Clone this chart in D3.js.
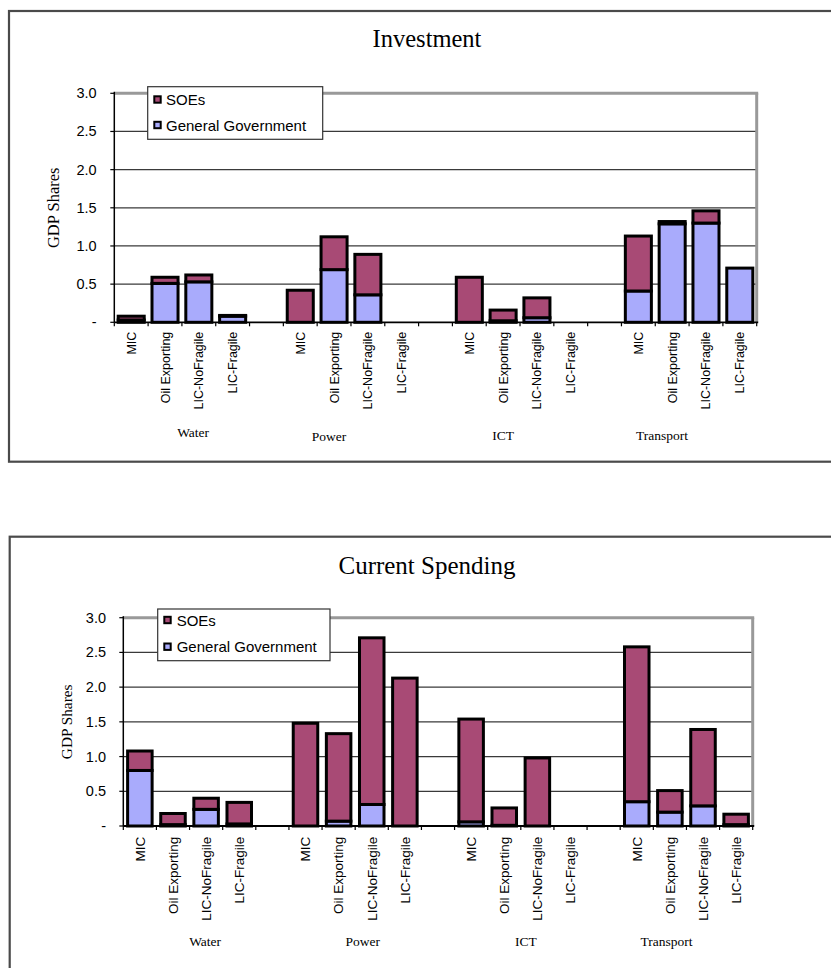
<!DOCTYPE html>
<html lang="en">
<head>
<meta charset="UTF-8">
<title>Investment and Current Spending</title>
<script src="https://d3js.org/d3.v7.min.js"></script>
<style>
  body { margin: 0; background: #fff; }
  svg { display: block; }
</style>
</head>
<body>
<svg id="chart" width="831" height="968"></svg>
<script>
// categories
var sectors = ["Water", "Power", "ICT", "Transport"];
var groups = ["MIC", "Oil Exporting", "LIC-NoFragile", "LIC-Fragile"];
var yTicks = [0, 0.5, 1.0, 1.5, 2.0, 2.5, 3.0];
var yTickLabels = ["-", "0.5", "1.0", "1.5", "2.0", "2.5", "3.0"];
var seriesNames = ["SOEs", "General Government"];

// Investment (GDP shares), order: Water x4, Power x4, ICT x4, Transport x4
var investGG  = [0.03, 0.51, 0.53, 0.08,  0.00, 0.69, 0.36, 0.00,  0.00, 0.02, 0.06, 0.00,  0.41, 1.29, 1.30, 0.71];
var investSOE = [0.05, 0.08, 0.09, 0.01,  0.42, 0.43, 0.53, 0.00,  0.59, 0.14, 0.26, 0.00,  0.72, 0.03, 0.16, 0.00];

// Current spending (GDP shares)
var currentGG  = [0.80, 0.02, 0.24, 0.03,  0.00, 0.07, 0.31, 0.00,  0.06, 0.01, 0.00, 0.00,  0.35, 0.20, 0.29, 0.02];
var currentSOE = [0.28, 0.16, 0.16, 0.31,  1.48, 1.26, 2.40, 2.13,  1.48, 0.25, 0.98, 0.00,  2.23, 0.31, 1.10, 0.15];

var colSOE = "#a84a75", colGG = "#a9abfc";
var sans = "'Liberation Sans', Arial, sans-serif";
var serif = "'Liberation Serif', 'Times New Roman', serif";

var svg = d3.select("#chart");

function drawChart(c) {
  var g = svg.append("g");

  // outer frame
  g.append("rect").attr("x", c.box.x).attr("y", c.box.y)
    .attr("width", 900).attr("height", c.box.h)
    .attr("fill", "none").attr("stroke", "#4a4a4a").attr("stroke-width", 2.2);

  g.append("text").attr("x", 427).attr("y", c.titleY)
    .attr("text-anchor", "middle").attr("dominant-baseline", "central")
    .style("font-family", serif).style("font-size", c.titleSize + "px")
    .text(c.title);

  // slots: 4 groups per sector, one empty slot between sectors
  var slots = [];
  sectors.forEach(function(s, i) {
    groups.forEach(function(gr) { slots.push(s + "|" + gr); });
    if (i < sectors.length - 1) slots.push("gap" + i);
  });

  var x = d3.scaleBand().domain(slots).range([c.plot.x0, c.plot.x1])
    .paddingInner(c.pad).paddingOuter(c.pad / 2);
  var y = d3.scaleLinear().domain([0, 3]).range([c.plot.y1, c.plot.y0]);
  var step = x.step();

  // gridlines
  g.selectAll(".grid").data(yTicks.filter(function(d) { return d > 0 && d < 3; }))
    .enter().append("line")
    .attr("x1", c.plot.x0).attr("x2", c.plot.x1)
    .attr("y1", function(d) { return y(d); }).attr("y2", function(d) { return y(d); })
    .attr("stroke", "#3a3a3a").attr("stroke-width", 1.3);

  // plot border top / right (grey)
  g.append("line").attr("x1", c.plot.x0).attr("x2", c.plot.x1 + 1.5)
    .attr("y1", y(3)).attr("y2", y(3))
    .attr("stroke", "#999").attr("stroke-width", 3);
  g.append("line").attr("x1", c.plot.x1).attr("x2", c.plot.x1)
    .attr("y1", y(3)).attr("y2", y(0))
    .attr("stroke", "#999").attr("stroke-width", 3);

  // stacked bars
  var rows = [];
  sectors.forEach(function(s, i) {
    groups.forEach(function(gr, j) {
      var k = i * 4 + j;
      rows.push({ key: s + "|" + gr, gg: c.gg[k], soe: c.soe[k] });
    });
  });
  var stack = d3.stack().keys(["gg", "soe"])(rows);
  var colors = { gg: colGG, soe: colSOE };

  stack.forEach(function(layer) {
    g.append("g").selectAll("rect")
      .data(layer.filter(function(d) { return d[1] - d[0] > 0; }))
      .enter().append("rect")
      .attr("x", function(d) { return x(d.data.key); })
      .attr("width", x.bandwidth())
      .attr("y", function(d) { return y(d[1]); })
      .attr("height", function(d) { return y(d[0]) - y(d[1]); })
      .attr("fill", colors[layer.key])
      .attr("stroke", "#000").attr("stroke-width", 3);
  });

  // y axis
  g.append("line").attr("x1", c.plot.x0).attr("x2", c.plot.x0)
    .attr("y1", y(3) - 1.5).attr("y2", y(0))
    .attr("stroke", "#000").attr("stroke-width", 1.5);
  g.selectAll(".ytick").data(yTicks).enter().append("line")
    .attr("x1", c.plot.x0 - 4).attr("x2", c.plot.x0)
    .attr("y1", function(d) { return y(d); }).attr("y2", function(d) { return y(d); })
    .attr("stroke", "#000").attr("stroke-width", 1.2);
  g.selectAll(".ylab").data(yTicks).enter().append("text")
    .attr("x", c.plot.x0 - c.yLabGap)
    .attr("y", function(d) { return y(d); })
    .attr("text-anchor", "end").attr("dominant-baseline", "central")
    .style("font-family", sans).style("font-size", "14.5px")
    .text(function(d, i) { return yTickLabels[i]; });

  g.append("text")
    .attr("transform", "translate(" + c.yTitleX + "," + ((y(0) + y(3)) / 2) + ") rotate(-90)")
    .attr("text-anchor", "middle").attr("dominant-baseline", "central")
    .style("font-family", serif).style("font-size", c.yTitleSize + "px")
    .text("GDP Shares");

  // x axis with ticks at slot boundaries
  g.append("line").attr("x1", c.plot.x0).attr("x2", c.plot.x1 + 1.5)
    .attr("y1", y(0)).attr("y2", y(0))
    .attr("stroke", "#000").attr("stroke-width", 1.8);
  g.selectAll(".xtick").data(d3.range(slots.length + 1)).enter().append("line")
    .attr("x1", function(i) { return c.plot.x0 + i * step; })
    .attr("x2", function(i) { return c.plot.x0 + i * step; })
    .attr("y1", y(0)).attr("y2", y(0) + 4)
    .attr("stroke", "#000").attr("stroke-width", 1.2);

  g.selectAll(".xlab").data(rows).enter().append("text")
    .attr("transform", function(d) {
      return "translate(" + (x(d.key) + x.bandwidth() / 2) + "," + c.xLabY + ") rotate(-90)";
    })
    .attr("text-anchor", "end").attr("dy", "0.36em")
    .style("font-family", sans).style("font-size", c.xLabSize + "px")
    .text(function(d) { return d.key.split("|")[1]; });

  g.selectAll(".sector").data(sectors).enter().append("text")
    .attr("x", function(d, i) { return c.plot.x0 + c.sectorPos[i] * step; })
    .attr("y", function(d, i) { return c.sectorY[i]; })
    .attr("text-anchor", "middle").attr("dominant-baseline", "central")
    .style("font-family", serif).style("font-size", "13.5px")
    .text(function(d) { return d; });

  // legend
  var L = c.legend;
  g.append("rect").attr("x", L.x).attr("y", L.y).attr("width", L.w).attr("height", L.h)
    .attr("fill", "#fff").attr("stroke", "#333").attr("stroke-width", 1.2);
  var items = [{ name: seriesNames[0], col: colSOE, y: L.r1 }, { name: seriesNames[1], col: colGG, y: L.r2 }];
  var li = g.selectAll(".leg").data(items).enter().append("g");
  li.append("rect").attr("x", L.sx + 1).attr("y", function(d) { return d.y - 3.2; })
    .attr("width", 6.4).attr("height", 6.4)
    .attr("fill", function(d) { return d.col; })
    .attr("stroke", "#000").attr("stroke-width", 2);
  li.append("text").attr("x", L.tx).attr("y", function(d) { return d.y; })
    .attr("dominant-baseline", "central")
    .style("font-family", sans).style("font-size", "15px")
    .text(function(d) { return d.name; });
}

drawChart({
  title: "Investment", gg: investGG, soe: investSOE,
  box: { x: 9, y: 11, h: 450.7 }, titleY: 38, titleSize: 24.5,
  plot: { x0: 114.3, x1: 756.7, y0: 93.3, y1: 322.3 }, pad: 0.23,
  yLabGap: 17.6, yTitleX: 53, yTitleSize: 16.5,
  xLabY: 331.7, xLabSize: 12.5,
  sectorPos: [2.33, 6.35, 11.5, 16.2], sectorY: [432, 436, 435, 435],
  legend: { x: 147.7, y: 86.7, w: 175, h: 52.6, r1: 99.5, r2: 125, sx: 153.3, tx: 166 }
});

drawChart({
  title: "Current Spending", gg: currentGG, soe: currentSOE,
  box: { x: 9.7, y: 536.7, h: 500 }, titleY: 565, titleSize: 25,
  plot: { x0: 123.3, x1: 752.7, y0: 617.7, y1: 826 }, pad: 0.26,
  yLabGap: 17.3, yTitleX: 66, yTitleSize: 15.3,
  xLabY: 836.7, xLabSize: 13.5,
  sectorPos: [2.47, 7.23, 12.15, 16.4], sectorY: [941, 941, 941, 941],
  legend: { x: 157.7, y: 609, w: 172.3, h: 51.7, r1: 620, r2: 646.7, sx: 163.3, tx: 176.7 }
});
</script>
</body>
</html>
